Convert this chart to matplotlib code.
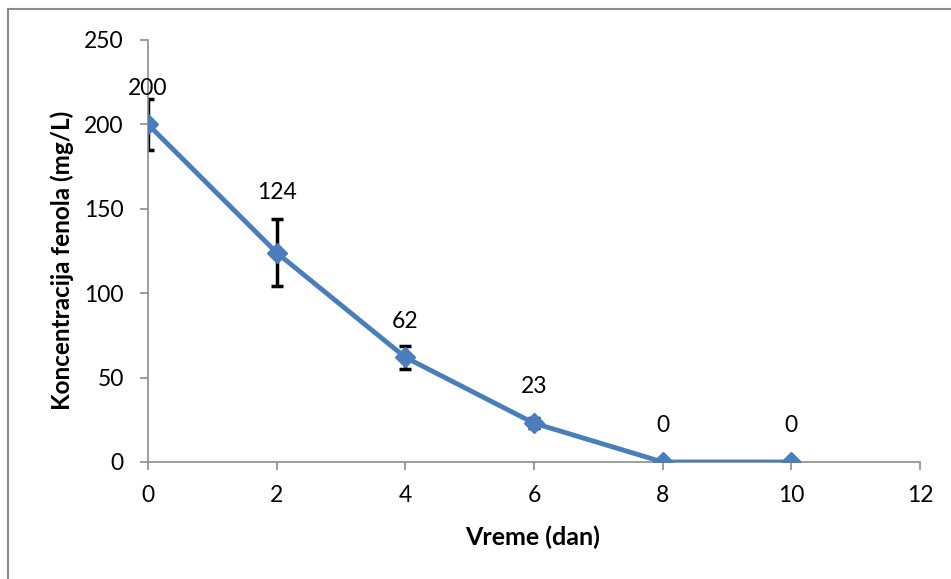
import matplotlib.pyplot as plt
from matplotlib.patches import Rectangle

plt.rcParams['font.family'] = ['Lato', 'DejaVu Sans']

# data
days = [0, 2, 4, 6, 8, 10]
phenol = [200, 124, 62, 23, 0, 0]
errors = [15, 20, 7, 3, 0, 0]
label_offsets = [36, 60, 36, 37, 37, 37]  # px above the point

blue = '#4A7EBB'
gray = '#8C8C8C'

fig = plt.figure(figsize=(9.51, 5.79), dpi=100)
ax = fig.add_axes([148 / 951, 1 - 462 / 579, (920 - 148) / 951, (462 - 40) / 579])

# outer chart frame
fig.patches.append(Rectangle((8 / 951, -0.1), 1.2, 1 - 9 / 579 + 0.1,
                             transform=fig.transFigure, fill=False,
                             edgecolor=gray, linewidth=1.5))

ax.errorbar(days, phenol, yerr=errors, fmt='none', ecolor='black',
            elinewidth=2.5, capsize=4, capthick=2.5, zorder=2)
ax.plot(days, phenol, color=blue, linewidth=3.5, marker='D', markersize=10.5,
        zorder=3)

for x, y, off in zip(days, phenol, label_offsets):
    ax.annotate(str(y), (x, y), xytext=(0, off * 0.72), textcoords='offset points',
                ha='center', va='center', fontsize=16.5)

ax.set_xlim(0, 12)
ax.set_ylim(0, 250)
ax.set_xticks(range(0, 13, 2))
ax.set_yticks(range(0, 251, 50))
ax.tick_params(labelsize=16.5, color=gray, length=5.5, width=1.2)
ax.tick_params(axis='x', pad=11)
ax.tick_params(axis='y', pad=12)

for side in ['top', 'right']:
    ax.spines[side].set_visible(False)
for side in ['left', 'bottom']:
    ax.spines[side].set_color(gray)
    ax.spines[side].set_linewidth(1.2)

ax.set_xlabel('Vreme (dan)', fontsize=18, fontweight='bold')
ax.set_ylabel('Koncentracija fenola (mg/L)', fontsize=17.5, fontweight='bold')
ax.xaxis.set_label_coords(533 / 951, 1 - 537 / 579, transform=fig.transFigure)
ax.yaxis.set_label_coords(62 / 951, 1 - 260 / 579, transform=fig.transFigure)
ax.xaxis.label.set_va('center')
ax.yaxis.label.set_va('center')

plt.savefig('out.png', dpi=100)
plt.close()
